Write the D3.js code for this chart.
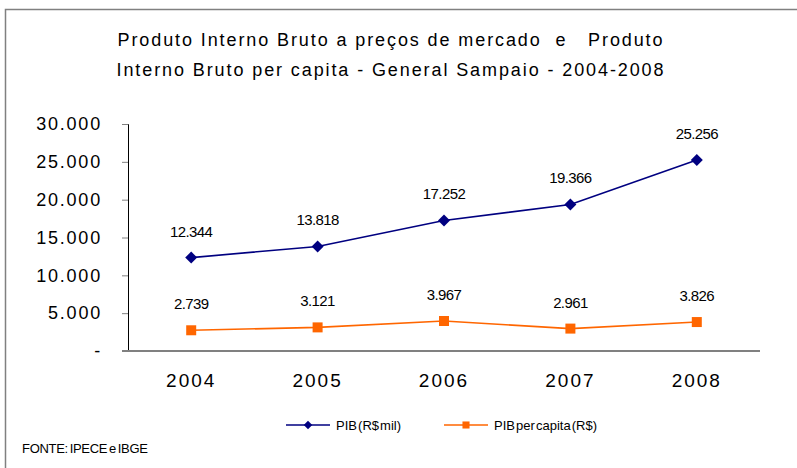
<!DOCTYPE html>
<html>
<head>
<meta charset="utf-8">
<script src="https://cdn.jsdelivr.net/npm/d3@7"></script>
<style>
  body { margin: 0; background: #fff; }
  text { font-family: "Liberation Sans", Arial, sans-serif; }
</style>
</head>
<body>
<svg id="chart" width="797" height="468"></svg>
<script>
const years = ["2004", "2005", "2006", "2007", "2008"];
const pib = [12344, 13818, 17252, 19366, 25256];
const pibPerCapita = [2739, 3121, 3967, 2961, 3826];
const yTicks = [0, 5000, 10000, 15000, 20000, 25000, 30000];
const titleLines = [
  "Produto Interno Bruto a preços de mercado  e   Produto",
  "Interno Bruto per capita - General Sampaio - 2004-2008"
];

const fmt = d3.format(",d");
const br = (v) => (v === 0 ? "-" : fmt(v).replace(/,/g, "."));

var svg = d3.select("#chart"),
  margin = { top: 124, right: 37, bottom: 117, left: 128 },
  width = +svg.attr("width") - margin.left - margin.right,
  height = +svg.attr("height") - margin.top - margin.bottom;

// outer frame
svg.append("rect")
  .attr("x", 5.5).attr("y", 9.5)
  .attr("width", 820).attr("height", 480)
  .attr("fill", "none").attr("stroke", "#808080").attr("stroke-width", 1.5);

svg.append("text")
  .attr("x", 391).attr("y", 46)
  .attr("text-anchor", "middle")
  .attr("font-size", 18)
  .attr("letter-spacing", 1.9)
  .selectAll("tspan")
  .data(titleLines)
  .enter()
  .append("tspan")
  .attr("x", 391)
  .attr("dy", (d, i) => (i === 0 ? 0 : 30))
  .style("white-space", "pre")
  .text((d) => d);

var x = d3.scaleBand().domain(years).range([0, width]);
var y = d3.scaleLinear().domain([0, 30000]).range([height, 0]);

var g = svg.append("g")
  .attr("transform", "translate(" + margin.left + "," + margin.top + ")");

// y axis
var yAxis = g.append("g")
  .call(d3.axisLeft(y).tickValues(yTicks).tickSize(6).tickFormat(br));
yAxis.select(".domain").attr("stroke", "#000");
yAxis.selectAll(".tick line").attr("stroke", "#808080");
yAxis.selectAll(".tick text")
  .attr("font-size", 18).attr("x", -26)
  .attr("letter-spacing", 1.8)
  .attr("fill", "#000")
  .attr("font-family", "Liberation Sans, Arial, sans-serif");

// x axis
var xAxis = g.append("g")
  .attr("transform", "translate(0," + height + ")")
  .call(d3.axisBottom(x).tickSize(0).tickPadding(23));
xAxis.select(".domain").attr("stroke", "#808080").attr("stroke-width", 2)
  .attr("d", "M-6,0H" + width);
xAxis.selectAll(".tick text")
  .attr("font-size", 19)
  .attr("letter-spacing", 2)
  .attr("fill", "#000")
  .attr("font-family", "Liberation Sans, Arial, sans-serif");

const cx = (i) => x(years[i]) + x.bandwidth() / 2;

var series = [
  { name: "PIB (R$ mil)", values: pib, color: "#000080", shape: d3.symbolSquare, rot: 45, size: 72 },
  { name: "PIB per capita (R$)", values: pibPerCapita, color: "#FF6600", shape: d3.symbolSquare, rot: 0, size: 100 }
];

var line = d3.line()
  .x((d, i) => cx(i))
  .y((d) => y(d));

series.forEach(function (s) {
  g.append("path")
    .datum(s.values)
    .attr("fill", "none")
    .attr("stroke", s.color)
    .attr("stroke-width", 1.6)
    .attr("d", line);

  g.selectAll(null)
    .data(s.values)
    .enter()
    .append("path")
    .attr("d", d3.symbol().type(s.shape).size(s.size))
    .attr("fill", s.color)
    .attr("transform", (d, i) => "translate(" + cx(i) + "," + y(d) + ") rotate(" + s.rot + ")");

  g.selectAll(null)
    .data(s.values)
    .enter()
    .append("text")
    .attr("x", (d, i) => cx(i))
    .attr("y", (d) => y(d) - 21)
    .attr("text-anchor", "middle")
    .attr("font-size", 15)
    .attr("letter-spacing", -0.6)
    .text((d) => br(d));
});

// legend
var legend = svg.append("g").attr("transform", "translate(0,425)");
var legX = [286, 444];
series.forEach(function (s, i) {
  var lg = legend.append("g").attr("transform", "translate(" + legX[i] + ",0)");
  lg.append("line").attr("x1", 0).attr("x2", 44)
    .attr("stroke", s.color).attr("stroke-width", 1.6);
  lg.append("path")
    .attr("d", d3.symbol().type(s.shape).size(s.size * 0.5))
    .attr("fill", s.color)
    .attr("transform", "translate(22,0) rotate(" + s.rot + ")");
  lg.append("text")
    .attr("x", 50).attr("y", 5)
    .attr("font-size", 13)
    .attr("word-spacing", -2.5)
    .text(s.name);
});

svg.append("text")
  .attr("x", 22).attr("y", 453)
  .attr("font-size", 13)
  .attr("word-spacing", -1.5)
  .attr("letter-spacing", -0.3)
  .text("FONTE: IPECE e IBGE");
</script>
</body>
</html>
